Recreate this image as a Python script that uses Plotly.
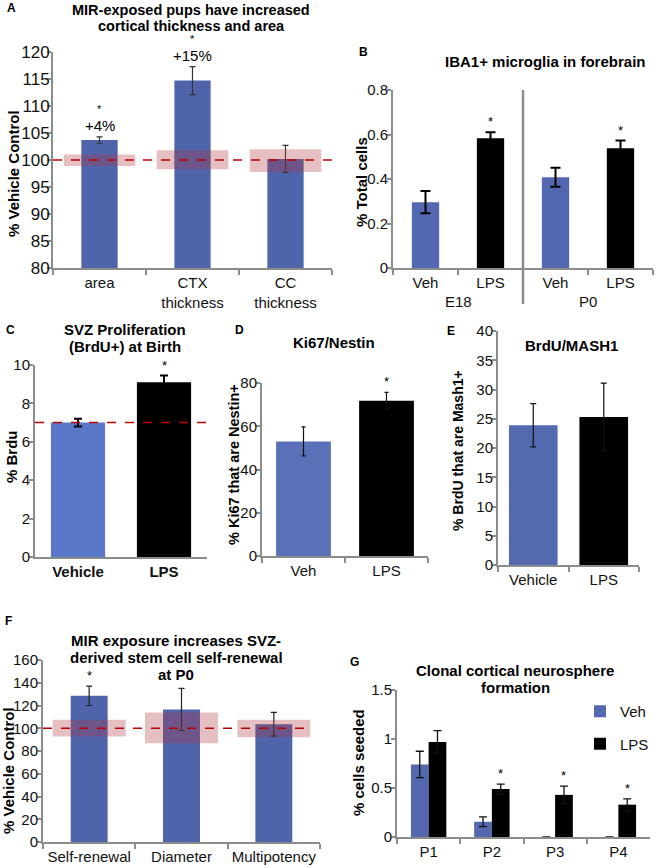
import plotly.graph_objects as go

# ---------------- data ----------------
A_cats = ["area", "CTX<br>thickness", "CC<br>thickness"]
A_vals = [103.7, 114.7, 100.2]
A_err = [0.6, 2.6, 2.5]
A_band_lo = [98.9, 98.3, 97.8]
A_band_hi = [101.0, 101.8, 102.0]
A_stars = ["*", "*", ""]
A_pct = ["+4%", "+15%", ""]
A_ref = 100

B_groups = ["E18", "E18", "P0", "P0"]
B_conds = ["Veh", "LPS", "Veh", "LPS"]
B_vals = [0.296, 0.583, 0.408, 0.538]
B_err = [0.05, 0.027, 0.043, 0.035]
B_notes = ["", "*", "", "*"]

C_cats = ["Vehicle", "LPS"]
C_vals = [7.0, 9.1]
C_err = [0.2, 0.35]
C_notes = ["", "*"]
C_ref = 7.0

D_cats = ["Veh", "LPS"]
D_vals = [53.0, 71.8]
D_err = [6.7, 3.9]
D_notes = ["", "*"]

E_cats = ["Vehicle", "LPS"]
E_vals = [23.9, 25.3]
E_err = [3.7, 5.8]

F_cats = ["Self-renewal", "Diameter", "Multipotency"]
F_vals = [128.5, 116.5, 103.5]
F_err = [8.5, 18.5, 10.5]
F_band_lo = [92.8, 86.8, 92.0]
F_band_hi = [107.5, 113.8, 107.5]
F_notes = ["*", "", ""]
F_ref = 100

G_cats = ["P1", "P2", "P3", "P4"]
G_veh = [0.74, 0.155, 0, 0]
G_veh_err = [0.135, 0.05, 0, 0]
G_lps = [0.97, 0.49, 0.43, 0.33]
G_lps_err = [0.115, 0.05, 0.09, 0.06]
G_notes = ["", "*", "*", "*"]

# ---------------- helpers ----------------
W, H = 656, 868
FONT = "Liberation Sans, Arial, Helvetica, sans-serif"
AX = "#8C8C8C"
BLUE = "#5064AC"
BAND = "rgba(175,55,65,0.32)"
RED = "#B80000"


def xdom(l, r):
    return [l / W, r / W]


def ydom(t, b):
    return [1 - b / H, 1 - t / H]


def px(x):
    return x / W


def py(y):
    return 1 - y / H


layout = dict(
    width=W, height=H, margin=dict(l=0, r=0, t=0, b=0, autoexpand=False),
    paper_bgcolor="white", plot_bgcolor="white",
    font=dict(family=FONT, color="#111111", size=15),
    barmode="overlay", showlegend=True,
    legend=dict(x=px(580), y=py(695), xanchor="left", yanchor="top",
                font=dict(size=15), bgcolor="rgba(0,0,0,0)",
                tracegroupgap=10, traceorder="grouped"),
)
annotations = []
shapes = []
traces = []


def axes(i, xd, yd, yr, dtick, ncat, yfs=15, xfs=15, xticks="outside", xbold=False,
         standoff=-4):
    s = "" if i == 1 else str(i)
    layout["xaxis" + s] = dict(
        domain=xd, anchor="y" + s, type="category", range=[-0.5, ncat - 0.5],
        showline=True, linecolor=AX, linewidth=2, ticks=xticks, tickson="boundaries",
        ticklen=5, tickcolor=AX, tickwidth=1.5, showgrid=False, zeroline=False,
        tickangle=0,
        tickfont=dict(size=xfs, color="#111111", weight="bold" if xbold else "normal"),
        fixedrange=True)
    layout["yaxis" + s] = dict(
        domain=yd, anchor="x" + s, range=yr, dtick=dtick, showline=True,
        linecolor=AX, linewidth=2, ticks="outside", ticklen=4, tickcolor=AX,
        tickwidth=1.5, showgrid=False, zeroline=False, ticklabelstandoff=standoff,
        tickfont=dict(size=yfs, color="#111111"), fixedrange=True)
    return "x" + s, "y" + s


def title_lines(lines, cx, cys, size=15):
    for t, cy in zip(lines, cys):
        annotations.append(dict(text="<b>%s</b>" % t, x=px(cx), y=py(cy), xref="paper",
                                yref="paper", showarrow=False, xanchor="center",
                                yanchor="middle", font=dict(size=size, color="#000")))


def letter(t, cx, cy):
    annotations.append(dict(text="<b>%s</b>" % t, x=px(cx), y=py(cy), xref="paper",
                            yref="paper", showarrow=False, xanchor="center",
                            yanchor="middle", font=dict(size=12, color="#000")))


def ytitle(t, cx, cy, size=15):
    annotations.append(dict(text="<b>%s</b>" % t, x=px(cx), y=py(cy), xref="paper",
                            yref="paper", showarrow=False, textangle=-90,
                            xanchor="center", yanchor="middle",
                            font=dict(size=size, color="#000")))


def notes(xa, ya, xs, tops, texts, size=13, yshift=1):
    for x, top, t in zip(xs, tops, texts):
        if t:
            annotations.append(dict(text=t, x=x, y=top, xref=xa, yref=ya, showarrow=False,
                                    xanchor="center", yanchor="bottom", yshift=yshift,
                                    font=dict(size=size, color="#000")))


def ref_line(xa, ya, yv, x1=1.0):
    shapes.append(dict(type="line", xref=xa + " domain", yref=ya, x0=0, x1=x1,
                       y0=yv, y1=yv, line=dict(color=RED, width=1.5, dash="dash"),
                       layer="above"))


def err(arr, color="#222", th=1.2, w=3):
    return dict(type="data", array=arr, color=color, thickness=th, width=w, visible=True)


# ---------------- Panel A ----------------
xa, ya = axes(1, xdom(53, 332), ydom(52, 268), [80, 120], 5, len(A_cats), yfs=17,
              standoff=-6)
traces.append(go.Bar(x=A_cats, y=A_vals, error_y=err(A_err, "#333", 1.2, 3), width=0.39,
                     marker=dict(color=BLUE, line=dict(width=0)), xaxis=xa, yaxis=ya,
                     showlegend=False))
traces.append(go.Bar(x=A_cats, y=[h - l for h, l in zip(A_band_hi, A_band_lo)],
                     base=A_band_lo, width=0.77,
                     marker=dict(color=BAND, line=dict(width=0)), xaxis=xa, yaxis=ya,
                     showlegend=False))
ref_line(xa, ya, A_ref)
A_tops = [v + e for v, e in zip(A_vals, A_err)]
notes(xa, ya, A_cats, A_tops, A_pct, size=15, yshift=1)
notes(xa, ya, A_cats, A_tops, A_stars, size=11, yshift=20)
letter("A", 11, 8)
title_lines(["MIR-exposed pups have increased", "cortical thickness and area"], 191,
            [9.5, 25.5], size=14.5)
ytitle("% Vehicle Control", 14, 174)

# ---------------- Panel B ----------------
B_keys = [g + " " + c for g, c in zip(B_groups, B_conds)]
xb, yb = axes(2, xdom(393, 653), ydom(90, 268), [0, 0.8], 0.2, len(B_keys))
layout["xaxis2"].update(categoryorder="array", categoryarray=B_keys,
                        tickmode="array", tickvals=B_keys, ticktext=B_conds)
B_colors = ["#5468B1" if c == "Veh" else "#000000" for c in B_conds]
traces.append(go.Bar(x=B_keys, y=B_vals, error_y=err(B_err, "#000", 2, 5), width=0.42,
                     marker=dict(color=B_colors, line=dict(width=0)), xaxis=xb, yaxis=yb,
                     showlegend=False))
notes(xb, yb, B_keys, [v + e for v, e in zip(B_vals, B_err)], B_notes)
groups = []
for g in B_groups:
    if g not in groups:
        groups.append(g)
for g in groups:
    idx = [i for i, gg in enumerate(B_groups) if gg == g]
    annotations.append(dict(text=g, x=sum(idx) / len(idx), y=py(301), xref=xb, yref="paper",
                            showarrow=False, xanchor="center", yanchor="middle",
                            font=dict(size=15, color="#111")))
for g in groups[1:]:
    first = B_groups.index(g)
    shapes.append(dict(type="line", xref=xb, yref="paper", x0=first - 0.5, x1=first - 0.5,
                       y0=py(304), y1=py(90), line=dict(color=AX, width=2.5)))
letter("B", 363, 52)
title_lines(["IBA1+ microglia in forebrain"], 545, [61])
ytitle("% Total cells", 361, 182)

# ---------------- Panel C ----------------
xc, yc = axes(3, xdom(35, 207), ydom(365, 557), [0, 10], 2, len(C_cats),
              xticks="", xbold=True)
traces.append(go.Bar(x=C_cats, y=C_vals, error_y=err(C_err, "#000", 2, 4), width=0.63,
                     marker=dict(color=["#5B78C8", "#000000"], line=dict(width=0)),
                     xaxis=xc, yaxis=yc, showlegend=False))
ref_line(xc, yc, C_ref)
notes(xc, yc, C_cats, [v + e for v, e in zip(C_vals, C_err)], C_notes)
letter("C", 10, 330)
title_lines(["SVZ Proliferation", "(BrdU+) at Birth"], 125, [329, 347])
ytitle("% Brdu", 11, 457)

# ---------------- Panel D ----------------
xd_, yd_ = axes(4, xdom(262, 428), ydom(383, 556), [0, 80], 20, len(D_cats))
traces.append(go.Bar(x=D_cats, y=D_vals, error_y=err(D_err, "#111", 1.2, 2), width=0.66,
                     marker=dict(color=["#5A70B8", "#000000"], line=dict(width=0)),
                     xaxis=xd_, yaxis=yd_, showlegend=False))
notes(xd_, yd_, D_cats, [v + e for v, e in zip(D_vals, D_err)], D_notes)
letter("D", 239, 330)
title_lines(["Ki67/Nestin"], 334, [342])
ytitle("% Ki67 that are Nestin+", 234, 465, size=14.5)

# ---------------- Panel E ----------------
xe, ye = axes(5, xdom(498, 639), ydom(331, 565), [0, 40], 5, len(E_cats))
traces.append(go.Bar(x=E_cats, y=E_vals, error_y=err(E_err, "#111", 1.2, 3), width=0.69,
                     marker=dict(color=["#5369B0", "#000000"], line=dict(width=0)),
                     xaxis=xe, yaxis=ye, showlegend=False))
letter("E", 451, 331)
title_lines(["BrdU/MASH1"], 571, [345])
ytitle("% BrdU that are Mash1+", 458, 450, size=14)

# ---------------- Panel F ----------------
xf, yf = axes(6, xdom(43, 320), ydom(660, 842), [0, 160], 20, len(F_cats))
traces.append(go.Bar(x=F_cats, y=F_vals, error_y=err(F_err, "#222", 1.2, 3), width=0.40,
                     marker=dict(color=BLUE, line=dict(width=0)), xaxis=xf, yaxis=yf,
                     showlegend=False))
traces.append(go.Bar(x=F_cats, y=[h - l for h, l in zip(F_band_hi, F_band_lo)],
                     base=F_band_lo, width=0.79,
                     marker=dict(color=BAND, line=dict(width=0)), xaxis=xf, yaxis=yf,
                     showlegend=False))
ref_line(xf, yf, F_ref, x1=0.955)
notes(xf, yf, F_cats, [v + e for v, e in zip(F_vals, F_err)], F_notes)
letter("F", 8, 621)
title_lines(["MIR exposure increases SVZ-", "derived stem cell self-renewal", "at P0"],
            176, [640, 657, 674])
ytitle("% Vehicle Control", 8, 771)

# ---------------- Panel G ----------------
G_w = 0.28
xg, yg = axes(7, xdom(397, 650), ydom(690, 837), [0, 1.5], 0.5, len(G_cats))
traces.append(go.Bar(x=G_cats, y=G_veh, error_y=err(G_veh_err, "#111", 1.3, 4),
                     width=G_w, offset=-G_w, name="Veh", legendgroup="veh",
                     marker=dict(color="#5368AF", line=dict(width=0)), xaxis=xg, yaxis=yg))
traces.append(go.Bar(x=G_cats, y=G_lps, error_y=err(G_lps_err, "#111", 1.3, 4),
                     width=G_w, offset=0, name="LPS", legendgroup="lps",
                     marker=dict(color="#000000", line=dict(width=0)), xaxis=xg, yaxis=yg))
notes(xg, yg, [i + G_w / 2 for i in range(len(G_cats))],
      [v + e for v, e in zip(G_lps, G_lps_err)], G_notes)
letter("G", 354, 662)
title_lines(["Clonal cortical neurosphere", "formation"], 515, [670, 687])
ytitle("% cells seeded", 358, 763)

layout["annotations"] = annotations
layout["shapes"] = shapes
fig = go.Figure(data=traces, layout=layout)
fig.write_html("out.html", config={"displayModeBar": False},
               post_script="document.body.style.margin='0';"
                           "document.body.style.overflow='hidden';")
